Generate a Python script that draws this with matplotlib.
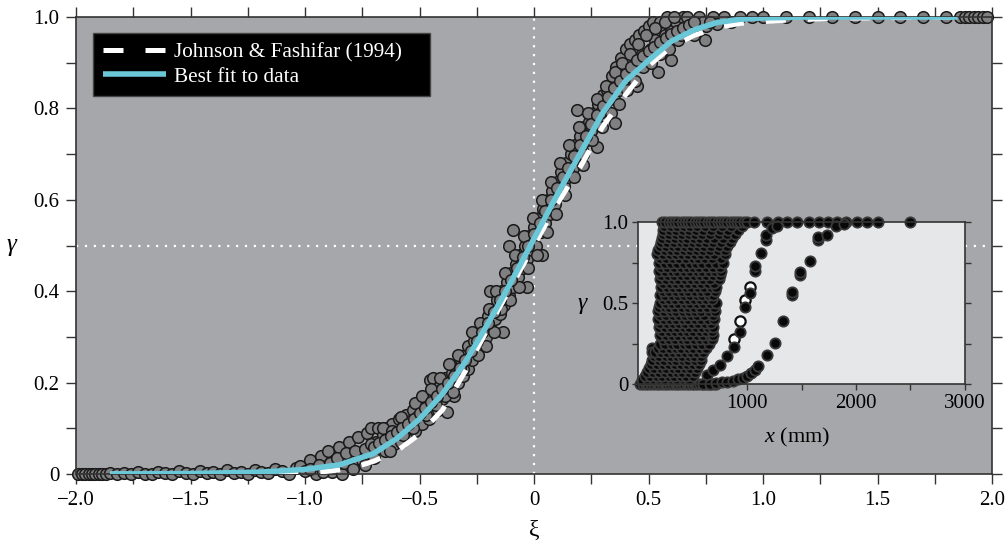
import matplotlib
matplotlib.use("Agg")
import matplotlib.pyplot as plt

plt.rcParams["font.family"] = ["Liberation Serif", "DejaVu Serif"]
plt.rcParams["mathtext.fontset"] = "custom"
plt.rcParams["mathtext.rm"] = "Liberation Serif"
plt.rcParams["mathtext.it"] = "Liberation Serif:italic"

# ---- intermittency data, gamma vs normalised distance xi ----
base_xi = [-1.99, -1.975, -1.96, -1.945, -1.93, -1.915, -1.90, -1.885, -1.87,
           -1.85, -1.82, -1.79, -1.76, -1.73, -1.70, -1.67, -1.64, -1.61, -1.58,
           -1.55, -1.52, -1.49, -1.46, -1.43, -1.40, -1.37, -1.34, -1.31, -1.28,
           -1.25, -1.22, -1.19, -1.16, -1.13, -1.10, -1.07, -1.04]
base_gamma = [0, 0, 0, 0, 0, 0, 0, 0, 0,
              0.002, 0.0, 0.003, 0.0, 0.004, 0.001, 0.0, 0.005, 0.002, 0.0,
              0.006, 0.003, 0.0, 0.007, 0.002, 0.004, 0.0, 0.008, 0.003, 0.005,
              0.0, 0.009, 0.004, 0.002, 0.012, 0.006, 0.0, 0.014]

onset_xi = [-1.02, -1.0, -0.98, -0.96, -0.95, -0.93, -0.91, -0.9, -0.88, -0.87,
            -0.85, -0.84, -0.83, -0.81, -0.8, -0.79, -0.77, -0.76, -0.75, -0.73,
            -0.72, -0.71, -0.7, -0.69, -0.68,
            -0.98, -0.94, -0.92, -0.89, -0.86, -0.82, -0.78, -0.74, -0.74, -0.71]
onset_gamma = [0.018, 0.006, 0.03, 0.012, 0.0, 0.04, 0.015, 0.05, 0.005, 0.03,
               0.06, 0.0, 0.025, 0.07, 0.04, 0.01, 0.08, 0.045, 0.03, 0.09,
               0.055, 0.1, 0.035, 0.07, 0.1,
               0.01, 0.02, 0.005, 0.025, 0.035, 0.045, 0.05, 0.055, 0.02, 0.065]

lower_xi = [-0.67, -0.66, -0.65, -0.64, -0.63, -0.62, -0.61, -0.6, -0.59, -0.58,
            -0.57, -0.56, -0.55, -0.54, -0.53, -0.52, -0.51, -0.5, -0.49, -0.48,
            -0.47, -0.46, -0.454, -0.44, -0.45, -0.43, -0.42, -0.41, -0.4, -0.39,
            -0.38, -0.37, -0.36, -0.35, -0.34, -0.33, -0.32, -0.31, -0.3, -0.29,
            -0.28, -0.27,
            -0.66, -0.63, -0.62, -0.58, -0.57, -0.53, -0.52, -0.49, -0.47, -0.45,
            -0.43, -0.41, -0.39, -0.37, -0.355, -0.33, -0.31, -0.29]
lower_gamma = [0.06, 0.085, 0.05, 0.1, 0.075, 0.11, 0.065, 0.09, 0.12, 0.07,
               0.105, 0.13, 0.085, 0.115, 0.14, 0.095, 0.125, 0.15, 0.11, 0.14,
               0.165, 0.12, 0.205, 0.21, 0.155, 0.18, 0.14, 0.195, 0.165, 0.21,
               0.135, 0.19, 0.22, 0.17, 0.23, 0.2, 0.25, 0.215, 0.26, 0.23,
               0.28, 0.25,
               0.1, 0.05, 0.095, 0.125, 0.085, 0.1, 0.155, 0.17, 0.13, 0.185,
               0.15, 0.21, 0.17, 0.24, 0.18, 0.26, 0.23, 0.28]

middle_xi = [-0.26, -0.25, -0.24, -0.23, -0.22, -0.21, -0.2, -0.19, -0.19, -0.18,
             -0.17, -0.16, -0.15, -0.14, -0.135, -0.13, -0.12, -0.11, -0.11, -0.1,
             -0.09, -0.09, -0.08, -0.07, -0.06, -0.05, -0.04, -0.03, -0.03, -0.02,
             -0.01, 0.0, 0.01, 0.02, 0.035, 0.03, 0.04, 0.05, 0.06, 0.07,
             0.08, 0.09, 0.1, 0.11, 0.12, 0.13, 0.14, 0.15, 0.16, 0.17,
             0.18, 0.186, 0.19, 0.2, 0.21, 0.214, 0.22, 0.23, 0.24, 0.25,
             0.26, 0.275, 0.27, 0.28, 0.29, 0.3, 0.31, 0.32,
             -0.27, -0.245, -0.235, -0.21, -0.195, -0.175, -0.165, -0.145, -0.125,
             -0.105, -0.085, -0.065, -0.045, -0.025, -0.005, 0.015, 0.035, 0.055,
             0.075, 0.095, 0.115, 0.135, 0.155, 0.175, 0.195, 0.215, 0.235, 0.255,
             0.275, 0.295, 0.315, 0.335]
middle_gamma = [0.29, 0.265, 0.31, 0.28, 0.32, 0.30, 0.345, 0.40, 0.32, 0.36,
                0.34, 0.38, 0.35, 0.4, 0.31, 0.37, 0.42, 0.50, 0.39, 0.44,
                0.534, 0.41, 0.46, 0.43, 0.48, 0.45, 0.5, 0.41, 0.47, 0.52,
                0.49, 0.54, 0.5, 0.56, 0.48, 0.53, 0.58, 0.55, 0.6, 0.57,
                0.62, 0.59, 0.64, 0.61, 0.66, 0.63, 0.68, 0.65, 0.70, 0.67,
                0.72, 0.797, 0.69, 0.74, 0.71, 0.676, 0.76, 0.73, 0.77, 0.75,
                0.79, 0.716, 0.77, 0.81, 0.79, 0.83, 0.8, 0.84,
                0.31, 0.26, 0.33, 0.28, 0.36, 0.31, 0.4, 0.36, 0.44,
                0.38, 0.48, 0.41, 0.52, 0.45, 0.56, 0.48, 0.6, 0.53,
                0.64, 0.57, 0.68, 0.61, 0.72, 0.65, 0.76, 0.7, 0.79, 0.73,
                0.82, 0.76, 0.85, 0.79]

upper_xi = [0.33, 0.34, 0.354, 0.35, 0.36, 0.37, 0.38, 0.39, 0.4, 0.41,
            0.42, 0.43, 0.44, 0.45, 0.45, 0.46, 0.47, 0.48, 0.49, 0.5,
            0.51, 0.52, 0.53, 0.54, 0.55, 0.56, 0.57, 0.58, 0.6, 0.6,
            0.62, 0.63, 0.65, 0.66, 0.68, 0.7, 0.72, 0.747, 0.75, 0.78,
            0.8, 0.83, 0.86, 0.9, 0.95, 1.0,
            0.355, 0.37, 0.385, 0.405, 0.42, 0.44, 0.455, 0.475, 0.49, 0.51,
            0.53, 0.55, 0.57, 0.59, 0.61, 0.64, 0.67, 0.69, 0.74, 0.77]
upper_gamma = [0.82, 0.87, 0.768, 0.83, 0.89, 0.84, 0.91, 0.86, 0.93, 0.87,
               0.94, 0.89, 0.95, 0.85, 0.9, 0.96, 0.92, 0.97, 0.91, 0.98,
               0.93, 0.99, 0.95, 0.88, 0.99, 0.94, 0.96, 1.0, 0.906, 0.97,
               0.99, 0.95, 1.0, 0.97, 0.99, 0.96, 1.0, 0.95, 0.98, 1.0,
               0.985, 1.0, 0.99, 1.0, 1.0, 1.0,
               0.88, 0.81, 0.9, 0.84, 0.92, 0.86, 0.94, 0.89, 0.96, 0.9,
               0.975, 0.92, 0.99, 0.93, 1.0, 0.96, 1.0, 0.975, 0.99, 0.99]

core_xi = [-0.70, -0.675, -0.65, -0.625, -0.60, -0.575, -0.55, -0.525, -0.50, -0.475,
           -0.45, -0.425, -0.40, -0.375, -0.35, -0.325, -0.30, -0.275, -0.25, -0.225,
           -0.20, -0.175, -0.15, -0.125, -0.10, -0.075, -0.05, -0.025, 0.0, 0.025,
           0.05, 0.075, 0.10, 0.125, 0.15, 0.175, 0.20, 0.225, 0.25, 0.275,
           0.30, 0.325, 0.35, 0.375, 0.40, 0.425, 0.45, 0.475, 0.50, 0.525,
           0.55, 0.575, 0.60, 0.625, 0.65, 0.675, 0.70]
core_gamma = [0.06, 0.068, 0.075, 0.083, 0.092, 0.10, 0.11, 0.12, 0.133, 0.145,
              0.158, 0.17, 0.185, 0.2, 0.215, 0.232, 0.25, 0.27, 0.29, 0.31,
              0.33, 0.355, 0.38, 0.40, 0.425, 0.45, 0.475, 0.50, 0.525, 0.55,
              0.575, 0.60, 0.625, 0.65, 0.67, 0.695, 0.72, 0.74, 0.765, 0.785,
              0.805, 0.825, 0.845, 0.86, 0.875, 0.89, 0.905, 0.915, 0.925, 0.935,
              0.945, 0.955, 0.963, 0.97, 0.977, 0.983, 0.988]

turb_xi = [1.1, 1.2, 1.3, 1.4, 1.5, 1.6, 1.7, 1.8, 1.86, 1.88, 1.9, 1.92, 1.94,
           1.96, 1.98]
turb_gamma = [1.0] * len(turb_xi)

# ---- model curves ----
jf_xi = [-1.85, -1.2, -1.0, -0.9, -0.8, -0.7, -0.6, -0.5, -0.4, -0.3, -0.2, -0.1,
         0.0, 0.1, 0.2, 0.3, 0.4, 0.5, 0.6, 0.7, 0.8, 0.9, 1.0, 1.1, 1.3, 1.85]
jf_gamma = [0.0, 0.0, 0.002, 0.006, 0.012, 0.028, 0.05, 0.087, 0.14, 0.225, 0.32,
            0.41, 0.5, 0.59, 0.67, 0.76, 0.83, 0.893, 0.935, 0.96, 0.977, 0.986,
            0.99, 0.993, 0.997, 1.0]

fit_xi = [-1.85, -1.5, -1.2, -1.0, -0.85, -0.7, -0.6, -0.5, -0.4, -0.3, -0.2, -0.1,
          0.0, 0.1, 0.2, 0.3, 0.4, 0.5, 0.6, 0.7, 0.8, 0.9, 1.0, 1.2, 1.85]
fit_gamma = [0.0, 0.001, 0.004, 0.01, 0.02, 0.045, 0.077, 0.12, 0.175, 0.245, 0.33,
             0.42, 0.515, 0.61, 0.70, 0.79, 0.86, 0.905, 0.947, 0.972, 0.988,
             0.995, 0.998, 1.0, 1.0]

# ---- raw gamma vs streamwise position x (mm) ----
inset_zero_x = [20, 45, 70, 95, 120, 145, 170, 195, 220, 245, 270, 295, 320, 345,
                370, 395, 420, 445, 470, 495, 520, 545, 570, 595, 620, 645, 670,
                695, 720]
inset_one_x = [220, 250, 280, 310, 340, 370, 400, 430, 460, 490, 520, 550, 580,
               610, 640, 670, 700, 730, 760, 790, 820, 850, 880, 910, 940, 970,
               1000, 1060, 1180, 1280, 1370, 1460, 1565, 1656, 1740, 1830, 1905,
               2005, 2105, 2200, 2500]
inset_rows_gamma = [0.025, 0.05, 0.075, 0.10, 0.125, 0.15, 0.175, 0.20, 0.225,
                    0.25, 0.275, 0.30, 0.325, 0.35, 0.375, 0.40, 0.425, 0.45,
                    0.475, 0.50, 0.525, 0.55, 0.575, 0.60, 0.625, 0.65, 0.675,
                    0.70, 0.725, 0.75, 0.775, 0.80, 0.825, 0.85, 0.875, 0.90,
                    0.925, 0.95, 0.975]
inset_rows_x = [
    [40, 90, 150, 200, 250, 310, 360, 420, 470],
    [60, 110, 170, 220, 280, 330, 390, 440, 500],
    [80, 135, 190, 245, 300, 355, 405, 465, 525],
    [100, 150, 210, 260, 320, 370, 430, 480, 540],
    [115, 170, 225, 285, 335, 390, 445, 500, 560],
    [130, 190, 240, 300, 350, 410, 460, 520, 580],
    [150, 195, 255, 300, 360, 405, 465, 515, 575],
    [130, 160, 210, 270, 320, 380, 430, 490, 540, 600],
    [180, 230, 290, 345, 395, 455, 505, 565, 625],
    [200, 250, 310, 360, 420, 470, 530, 590, 650],
    [225, 285, 340, 400, 450, 510, 565, 625, 675],
    [200, 260, 310, 370, 430, 480, 540, 600, 660, 690],
    [220, 280, 335, 395, 445, 505, 565, 620, 680],
    [190, 250, 300, 360, 420, 470, 530, 590, 640, 690],
    [205, 265, 320, 380, 435, 495, 555, 615, 670],
    [180, 240, 290, 350, 410, 460, 520, 580, 640, 700],
    [200, 260, 320, 375, 430, 490, 545, 610, 690],
    [180, 240, 300, 350, 410, 470, 520, 580, 650, 710],
    [190, 250, 285, 340, 400, 455, 510, 570, 630, 700],
    [200, 260, 310, 370, 430, 480, 540, 600, 660, 720],
    [225, 280, 340, 400, 455, 510, 565, 625, 680],
    [200, 250, 310, 370, 420, 480, 540, 590, 650, 690],
    [225, 285, 345, 400, 460, 520, 575, 635, 705],
    [210, 270, 320, 380, 440, 490, 550, 610, 670, 720],
    [230, 290, 345, 405, 460, 520, 580, 640, 700],
    [200, 260, 320, 370, 430, 490, 540, 600, 660, 740],
    [215, 275, 330, 390, 450, 510, 565, 620, 690, 750],
    [190, 250, 310, 360, 420, 480, 540, 590, 650, 710, 760],
    [210, 270, 330, 390, 450, 505, 560, 620, 685, 750],
    [190, 250, 300, 360, 420, 480, 530, 590, 650, 720, 780],
    [200, 260, 320, 380, 440, 500, 555, 615, 680, 760],
    [170, 230, 290, 350, 400, 460, 520, 580, 640, 700, 800],
    [185, 245, 305, 360, 420, 480, 540, 600, 660, 730, 800],
    [200, 260, 320, 370, 430, 490, 550, 610, 670, 740, 820],
    [210, 270, 330, 390, 440, 500, 560, 620, 690, 760, 840],
    [220, 280, 340, 400, 450, 510, 570, 630, 700, 780, 860],
    [225, 285, 345, 405, 465, 525, 590, 660, 740, 820, 890],
    [230, 290, 350, 410, 470, 530, 600, 670, 750, 830, 920],
    [240, 300, 360, 420, 480, 545, 615, 690, 770, 850, 950],
]
run_a_x = [632, 690, 754, 816, 883, 932, 978, 1024, 1070, 1070, 1125, 1175, 1175,
           1230, 1276]
run_a_gamma = [0.055, 0.085, 0.12, 0.17, 0.23, 0.32, 0.475, 0.56, 0.70, 0.73, 0.81,
               0.89, 0.92, 0.96, 0.977]
run_a_open_x = [883, 932, 978, 1024]
run_a_open_gamma = [0.28, 0.39, 0.52, 0.60]
run_b_x = [600, 660, 720, 770, 820, 870, 920, 960, 1000, 1040, 1070, 1100, 1184,
           1260, 1331, 1414, 1414, 1490, 1490, 1576, 1653, 1653, 1736, 1812, 1889]
run_b_gamma = [0.0, 0.003, 0.006, 0.01, 0.014, 0.02, 0.028, 0.036, 0.048, 0.065,
               0.085, 0.11, 0.18, 0.255, 0.39, 0.55, 0.57, 0.67, 0.69, 0.76, 0.89,
               0.91, 0.92, 0.975, 0.99]

main_bg = "#a6a7aa"
inset_bg = "#e6e7e9"
fit_color = "#6ac7d8"
spine_color = "#333333"

fig = plt.figure(figsize=(10.08, 5.48), dpi=100)
ax = fig.add_axes([76 / 1008, 74 / 548, 916 / 1008, 457 / 548])
ax.set_facecolor(main_bg)

ax.axvline(0, color="white", lw=1.6, ls=(0, (1, 3)), zorder=1)
ax.axhline(0.5, color="white", lw=1.6, ls=(0, (1, 3)), zorder=1)

all_xi = base_xi + onset_xi + lower_xi + middle_xi + upper_xi + core_xi + turb_xi
all_gamma = (base_gamma + onset_gamma + lower_gamma + middle_gamma + upper_gamma
             + core_gamma + turb_gamma)
ax.scatter(all_xi, all_gamma, s=70, facecolor="#808082", edgecolor="#1a1a1a",
           linewidths=1.1, zorder=2, clip_on=False)

ax.plot(jf_xi, jf_gamma, color="white", lw=3.6, dashes=(4, 4.4),
        label="Johnson & Fashifar (1994)", zorder=3)
ax.plot(fit_xi, fit_gamma, color=fit_color, lw=4.0,
        label="Best fit to data", zorder=4, solid_capstyle="butt")

ax.set_xlim(-2, 2)
ax.set_ylim(0, 1)
ax.set_xticks([-2, -1.5, -1, -0.5, 0, 0.5, 1, 1.5, 2])
ax.set_xticklabels(["\u22122.0", "\u22121.5", "\u22121.0", "\u22120.5", "0",
                    "0.5", "1.0", "1.5", "2.0"])
ax.set_xticks([-1.75, -1.25, -0.75, -0.25, 0.25, 0.75, 1.25, 1.75], minor=True)
ax.set_yticks([0, 0.2, 0.4, 0.6, 0.8, 1.0])
ax.set_yticklabels(["0", "0.2", "0.4", "0.6", "0.8", "1.0"])
ax.set_yticks([0.1, 0.3, 0.5, 0.7, 0.9], minor=True)
ax.tick_params(which="both", direction="out", length=7, width=1.0,
               color=spine_color, top=True, right=True, labelsize=15, pad=5)
for sp in ax.spines.values():
    sp.set_color(spine_color)
    sp.set_linewidth(1.2)

ax.set_xlabel("\u03be", fontsize=17, va="center")
ax.xaxis.set_label_coords(0.5, -0.123)
ax.set_ylabel("\u03b3", fontsize=18, rotation=0, fontstyle="italic",
              va="center", ha="center")
ax.yaxis.set_label_coords(-0.07, 0.5)

leg = ax.legend(loc="upper left", bbox_to_anchor=(0.0186, 0.5, 0.368, 0.465),
                mode="expand", borderaxespad=0, fontsize=15.3, handlelength=3.0,
                handletextpad=0.35, borderpad=0.45, labelspacing=0.2,
                fancybox=False, framealpha=1, facecolor="black",
                edgecolor="#444444")
for t in leg.get_texts():
    t.set_color("white")
leg.set_zorder(6)

# inset: raw intermittency against streamwise distance
ins = fig.add_axes([638 / 1008, 164 / 548, 327 / 1008, 162 / 548])
ins.set_facecolor(inset_bg)
ins.set_zorder(5)

rows_x = [130]
rows_g = [0.22]
for g, xs in zip(inset_rows_gamma, inset_rows_x):
    rows_x += xs
    rows_g += [g] * len(xs)

dot = dict(s=55, facecolor="#080808", edgecolor="#3a3a3a", linewidths=1.3,
           clip_on=False)
ins.scatter(inset_zero_x, [0.0] * len(inset_zero_x), **dot)
ins.scatter(rows_x, rows_g, **dot)
ins.scatter(inset_one_x, [1.0] * len(inset_one_x), **dot)
ins.scatter(run_a_open_x, run_a_open_gamma, s=55, facecolor="white",
            edgecolor="#111111", linewidths=1.6, clip_on=False)
ins.scatter(run_a_x, run_a_gamma, **dot)
ins.scatter(run_b_x, run_b_gamma, **dot)

ins.set_xlim(0, 3000)
ins.set_ylim(0, 1)
ins.set_xticks([500, 1000, 1500, 2000, 2500, 3000])
ins.set_xticklabels(["", "1000", "", "2000", "", "3000"])
ins.set_yticks([0, 0.25, 0.5, 0.75, 1.0])
ins.set_yticklabels(["0", "", "0.5", "", "1.0"])
ins.tick_params(direction="out", length=4, width=1.0, color=spine_color,
                right=True, labelsize=15, pad=3)
for sp in ins.spines.values():
    sp.set_color(spine_color)
    sp.set_linewidth(1.2)
ins.set_xlabel("$x$ (mm)", fontsize=16, va="center")
ins.xaxis.set_label_coords(0.486, -0.33)
ins.set_ylabel("\u03b3", fontsize=17, rotation=0, fontstyle="italic",
               va="center", ha="center")
ins.yaxis.set_label_coords(-0.171, 0.5)

fig.savefig("out.png", dpi=100)
